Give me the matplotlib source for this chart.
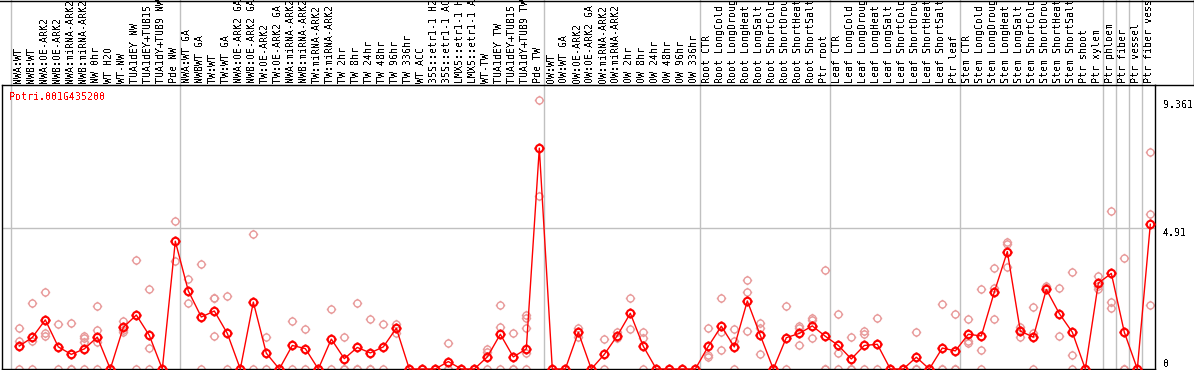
import numpy as np
import matplotlib
matplotlib.use("Agg")
import matplotlib.pyplot as plt
import matplotlib.transforms as mtransforms
from matplotlib.path import Path

# sample names (long ones get cut off by the top edge, as in the original)
labels = [
    "NWA:WT", "NWB:WT", "NWA:OE-ARK2", "NWB:OE-ARK2", "NWA:miRNA-ARK2",
    "NWB:miRNA-ARK2", "NW 0hr", "WT H2O", "WT-NW", "TUA1dEY NW",
    "TUA1dEY+TUB15 NW", "TUA1dY+TUB9 NW", "Pde NW",
    "NWA:WT GA", "NWBWT GA", "TW:WT", "TW:WT GA", "NWA:OE-ARK2 GA",
    "NWB:OE-ARK2 GA", "TW:OE-ARK2", "TW:OE-ARK2 GA", "NWA:miRNA-ARK2 GA",
    "NWB:miRNA-ARK2 GA", "TW:miRNA-ARK2", "TW:miRNA-ARK2 GA", "TW 2hr",
    "TW 8hr", "TW 24hr", "TW 48hr", "TW 96hr", "TW 336hr", "WT ACC",
    "35S::etr1-1 H2O", "35S::etr1-1 ACC", "LMX5::etr1-1 H2O",
    "LMX5::etr1-1 ACC", "WT-TW", "TUA1dEY TW", "TUA1dEY+TUB15 TW",
    "TUA1dY+TUB9 TW", "Pde TW",
    "OW:WT", "OW:WT GA", "OW:OE-ARK2", "OW:OE-ARK2 GA", "OW:miRNA-ARK2",
    "OW:miRNA-ARK2 GA", "OW 2hr", "OW 8hr", "OW 24hr", "OW 48hr", "OW 96hr",
    "OW 336hr",
    "Root CTR", "Root LongCold", "Root LongDrought", "Root LongHeat",
    "Root LongSalt", "Root ShortCold", "Root ShortDrought", "Root ShortHeat",
    "Root ShortSalt", "Ptr root",
    "Leaf CTR", "Leaf LongCold", "Leaf LongDrought", "Leaf LongHeat",
    "Leaf LongSalt", "Leaf ShortCold", "Leaf ShortDrought", "Leaf ShortHeat",
    "Leaf ShortSalt", "Ptr leaf",
    "Stem CTR", "Stem LongCold", "Stem LongDrought", "Stem LongHeat",
    "Stem LongSalt", "Stem ShortCold", "Stem ShortDrought", "Stem ShortHeat",
    "Stem ShortSalt", "Ptr shoot",
    "Ptr xylem", "Ptr phloem", "Ptr fiber", "Ptr vessel", "Ptr fiber vessel",
]

means = [
    0.80, 1.10, 1.71, 0.77, 0.51, 0.70, 1.11, 0, 1.45, 1.88, 1.17, 0, 4.45,
    2.72, 1.81, 2.02, 1.24, 0, 2.33, 0.55, 0, 0.82, 0.71, 0, 1.04, 0.36,
    0.75, 0.56, 0.77, 1.42, 0, 0, 0, 0.26, 0, 0, 0.42, 1.21, 0.42, 0.70,
    7.69,
    0, 0, 1.28, 0, 0.51, 1.16, 1.94, 0.79, 0, 0, 0, 0,
    0.79, 1.49, 0.77, 2.37, 1.17, 0, 1.09, 1.24, 1.50, 1.14,
    0.82, 0.35, 0.82, 0.86, 0, 0, 0.41, 0, 0.73, 0.63,
    1.21, 1.15, 2.68, 4.09, 1.32, 1.11, 2.77, 1.93, 1.28, 0,
    2.99, 3.33, 1.28, 0, 5.04,
]

replicates = [
    [1.42, 0.97, 0], [2.30, 0.99, 0], [2.68, 1.24, 1.15], [1.56, 0],
    [1.59, 0, 0], [1.16, 1.07, 0.95, 0], [2.18, 1.36, 0.95, 0], [0],
    [1.68, 1.30, 1.36], [3.78, 0], [2.77, 0.73, 0], [0], [5.14, 3.75],
    [3.13, 2.30], [3.64, 0], [2.46, 2.46, 1.14], [2.53, 0], [0], [4.69, 0],
    [1.11, 0], [0], [1.67, 0], [1.39, 0], [0], [2.09, 0], [1.11, 0, 0],
    [2.30, 0, 0], [1.74, 0, 0], [1.57, 0], [1.58, 1.27], [0], [0], [0],
    [0.89, 0, 0], [0], [0], [0.68, 0.60, 0], [2.22, 1.45, 0], [1.24, 0, 0],
    [1.88, 1.78, 1.42, 0.55, 0], [9.361, 6.01],
    [0], [0], [1.42, 1.13], [0], [1.04, 0], [1.30, 1.09], [2.46, 1.39],
    [1.30, 1.07, 0], [0], [0], [0], [0],
    [1.43, 0.49, 0.43], [2.46, 1.29, 0.66], [1.38, 0.99, 0],
    [3.10, 2.68, 1.32], [1.61, 1.42, 0.51], [0], [2.18, 0],
    [1.50, 1.42, 0.85], [1.76, 1.71, 1.07], [3.44, 0, 0],
    [1.90, 0.57, 0], [1.11, 0, 0], [1.33, 1.22, 0], [1.76, 0], [0], [0],
    [1.29, 0, 0], [0], [2.26, 0, 0], [1.92, 0, 0],
    [1.74, 0.99, 0.89], [2.77, 0.66, 0], [3.51, 2.82, 1.74],
    [4.41, 4.35, 3.54], [1.47, 1.36, 1.13], [2.15, 1.24, 0],
    [2.89, 2.84], [2.81, 1.14], [3.37, 0.49, 0], [0],
    [3.24, 2.89, 2.79], [5.49, 2.34, 2.11], [3.85, 0, 0], [0],
    [7.54, 5.39, 2.22],
]

# last column of each sample group (a grey separator follows it)
group_ends = [-1, 12, 40, 52, 62, 72, 83, 84, 85, 86]
y_marks = [9.361, 4.91, 0]
title = "Potri.001G435200"

plt.rcParams['font.family'] = ['DejaVu Sans Mono']
plt.rcParams['text.antialiased'] = False
fs = 7.2

# circle with little ticks, like the original marker
circle = Path.unit_circle()
ticks = Path([(0, 1), (0, 1.35), (0, -1), (0, -1.35),
              (1, 0), (1.35, 0), (-1, 0), (-1.35, 0)],
             [Path.MOVETO, Path.LINETO] * 4)
tick_circle = Path.make_compound_path(circle, ticks)

W, H = 1194, 370
fig = plt.figure(figsize=(W / 100, H / 100), dpi=100)
ax = fig.add_axes([2 / W, 1 / H, 1153 / W, 284 / H])

x = np.arange(len(labels))
ax.set_xlim(-1.331, 87.36)
ax.set_ylim(0, 9.89)

# replicates
for i, vals in enumerate(replicates):
    ax.plot([i] * len(vals), vals, ls='none', marker=tick_circle,
            ms=6.8, mfc='none', mec='#e89a9a', mew=1.0, clip_on=False,
            zorder=2)

# mean line
ax.plot(x, means, color='red', lw=1.0, marker=tick_circle, ms=7.2,
        mfc='none', mec='red', mew=1.5, clip_on=False, zorder=3)

# separators
top_ext = 1 + 85 / 284
for g in group_ends:
    ax.axvline(g + 0.385, ymin=0, ymax=top_ext, color='#c0c0c0', lw=1.0,
               clip_on=False, zorder=1)
ax.axhline(4.91, color='#c0c0c0', lw=1.0, zorder=1)

for s in ax.spines.values():
    s.set_color('black')
    s.set_linewidth(1.0)
ax.set_xticks([])
ax.set_yticks([])

# sample labels above the plot
trans = mtransforms.blended_transform_factory(ax.transData, ax.transAxes)
for i, lab in enumerate(labels):
    ax.text(i - 0.08, 1.006, lab, rotation=90, ha='center', va='bottom',
            fontsize=fs, transform=trans, clip_on=False)

ax.text(9.3 / W, 1 - 97 / H, title, transform=fig.transFigure, color='red',
        fontsize=fs, ha='left', va='center')

# value marks at the right
trans_r = mtransforms.blended_transform_factory(fig.transFigure, ax.transData)
ax.text(1163 / W, y_marks[0], "%g" % y_marks[0], transform=trans_r,
        fontsize=fs, ha='left', va='top')
ax.text(1163 / W, y_marks[1], "%g" % y_marks[1], transform=trans_r,
        fontsize=fs, ha='left', va='top')
ax.text(1163 / W, y_marks[2], "%g" % y_marks[2], transform=trans_r,
        fontsize=fs, ha='left', va='bottom')

# frame around the label strip
fig.add_artist(plt.Line2D([0, 1], [1 - 0.5 / H, 1 - 0.5 / H],
                          transform=fig.transFigure, color='black', lw=1.0))
fig.add_artist(plt.Line2D([1155 / W, 1], [1 - 85 / H, 1 - 85 / H],
                          transform=fig.transFigure, color='black', lw=1.0))
fig.add_artist(plt.Line2D([1193.5 / W, 1193.5 / W], [1, 1 - 85 / H],
                          transform=fig.transFigure, color='black', lw=1.0))

fig.savefig("out.png", dpi=100)
